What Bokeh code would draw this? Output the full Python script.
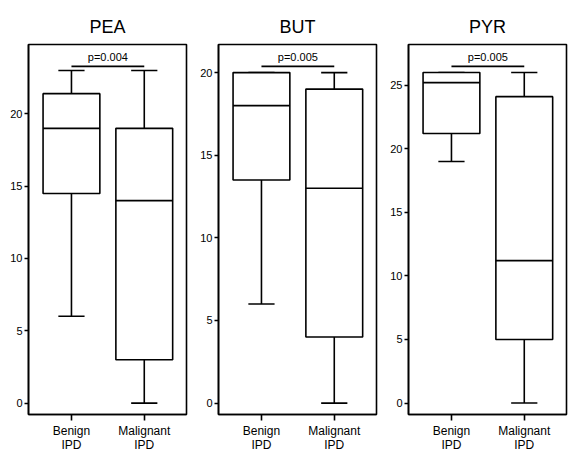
from bokeh.plotting import figure
from bokeh.models import Range1d, FixedTicker
from bokeh.layouts import row
from bokeh.core.properties import value
from bokeh.embed import file_html
from bokeh.resources import INLINE

# ---- data ----
categories = ["Benign\nIPD", "Malignant\nIPD"]

titles = ["PEA", "BUT", "PYR"]
p_labels = ["p=0.004", "p=0.005", "p=0.005"]

pea_low = [6, 0]
pea_q1 = [14.5, 3]
pea_median = [19, 14]
pea_q3 = [21.4, 19]
pea_high = [23, 23]

but_low = [6, 0]
but_q1 = [13.5, 4]
but_median = [18, 13]
but_q3 = [20, 19]
but_high = [20, 20]

pyr_low = [19, 0]
pyr_q1 = [21.2, 5]
pyr_median = [25.2, 11.2]
pyr_q3 = [26, 24.1]
pyr_high = [26, 26]

pea_ticks = [0, 5, 10, 15, 20]
but_ticks = [0, 5, 10, 15, 20]
pyr_ticks = [0, 5, 10, 15, 20, 25]

panels = [
    (pea_low, pea_q1, pea_median, pea_q3, pea_high, pea_ticks, (-0.79, 24.8)),
    (but_low, but_q1, but_median, but_q3, but_high, but_ticks, (-0.69, 21.7)),
    (pyr_low, pyr_q1, pyr_median, pyr_q3, pyr_high, pyr_ticks, (-0.9, 28.2)),
]

FONT = "Liberation Sans"
BOX_W = 0.78
CAP_W = 0.36
LW = 1.6

figs = []
for title, plabel, (lo, q1, med, q3, hi, ticks, yr) in zip(titles, p_labels, panels):
    xs = list(range(1, len(categories) + 1))
    box_l = [x - BOX_W / 2 for x in xs]
    box_r = [x + BOX_W / 2 for x in xs]
    cap_l = [x - CAP_W / 2 for x in xs]
    cap_r = [x + CAP_W / 2 for x in xs]

    p = figure(width=190, height=454, output_backend="svg", toolbar_location=None,
               x_range=Range1d(0.41, 2.58), y_range=Range1d(*yr),
               min_border_left=28, min_border_right=4, min_border_top=44,
               min_border_bottom=10)
    p.title.text = title
    p.title.align = "center"
    p.title.text_font = FONT
    p.title.text_font_size = "18px"
    p.title.text_font_style = "normal"
    p.title.text_color = "black"
    p.title.standoff = 16

    p.xgrid.visible = False
    p.ygrid.visible = False
    p.outline_line_color = "black"
    p.outline_line_width = LW
    p.background_fill_color = "white"
    p.border_fill_color = "white"

    # whiskers
    p.segment(x0=xs, y0=q3, x1=xs, y1=hi, line_color="black", line_width=LW)
    p.segment(x0=xs, y0=q1, x1=xs, y1=lo, line_color="black", line_width=LW)
    # caps
    p.segment(x0=cap_l, y0=hi, x1=cap_r, y1=hi, line_color="black", line_width=LW)
    p.segment(x0=cap_l, y0=lo, x1=cap_r, y1=lo, line_color="black", line_width=LW)
    # boxes
    p.vbar(x=xs, bottom=q1, top=q3, width=BOX_W, fill_color="white",
           line_color="black", line_width=LW)
    # medians
    p.segment(x0=box_l, y0=med, x1=box_r, y1=med, line_color="black", line_width=LW)

    # significance bracket
    span = yr[1] - yr[0]
    by = yr[1] - 0.059 * span
    ty = yr[1] - 0.035 * span
    p.segment(x0=[xs[0]], y0=[by], x1=[xs[1]], y1=[by], line_color="black", line_width=LW)
    p.text(x=[(xs[0] + xs[1]) / 2], y=[ty], text=[plabel], text_align="center",
           text_baseline="middle", text_font=value(FONT), text_font_size="11px",
           text_color="black")

    # axes
    p.yaxis.ticker = FixedTicker(ticks=ticks)
    p.yaxis.minor_tick_line_color = None
    p.yaxis.major_tick_in = 0
    p.yaxis.major_tick_out = 4
    p.yaxis.major_label_standoff = 2
    p.yaxis.major_label_text_font = FONT
    p.yaxis.major_label_text_font_size = "11px"
    p.yaxis.major_label_text_color = "black"
    p.yaxis.axis_line_color = "black"
    p.yaxis.axis_line_width = LW
    p.yaxis.major_tick_line_width = LW

    p.xaxis.ticker = FixedTicker(ticks=xs)
    p.xaxis.major_label_overrides = {x: c for x, c in zip(xs, categories)}
    p.xaxis.minor_tick_line_color = None
    p.xaxis.major_tick_in = 0
    p.xaxis.major_tick_out = 6
    p.xaxis.major_label_standoff = 3
    p.xaxis.major_label_text_font = FONT
    p.xaxis.major_label_text_font_size = "12px"
    p.xaxis.major_label_text_line_height = 1.0
    p.xaxis.major_label_text_color = "black"
    p.xaxis.axis_line_color = "black"
    p.xaxis.axis_line_width = LW
    p.xaxis.major_tick_line_width = LW

    figs.append(p)

layout = row(*figs, spacing=0)
open("out.html", "w").write(file_html(layout, INLINE))
